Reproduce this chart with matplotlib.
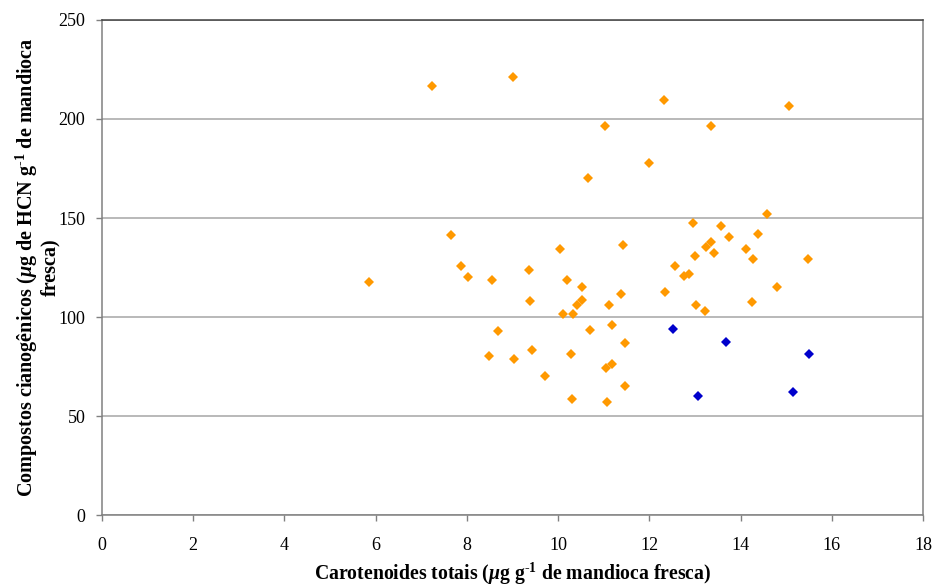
import matplotlib
matplotlib.use('Agg')
from matplotlib import pyplot as plt

# carotenoides (x) vs compostos cianogenicos (y)
orange_x = [5.85, 7.24, 9.01, 12.32, 15.06, 11.03, 13.36, 11.99, 10.66, 7.65,
            10.05, 11.43, 14.59, 12.96, 13.57, 13.75, 14.39, 13.35, 13.24, 14.11,
            13.01, 13.41, 14.27, 15.47, 7.88, 8.03, 8.54, 9.36, 12.57, 10.19,
            10.52, 9.39, 10.53, 10.42, 11.37, 12.34, 11.12, 10.11, 10.33, 12.77,
            12.88, 14.80, 13.02, 13.21, 14.25, 8.68, 10.71, 11.19, 11.47, 8.49,
            9.04, 9.43, 10.28, 11.18, 11.05, 9.71, 11.47, 10.30, 11.08]
orange_y = [117.8, 216.8, 221.1, 209.4, 206.7, 196.3, 196.3, 177.8, 170.2, 141.4,
            134.2, 136.5, 151.9, 147.5, 145.8, 140.6, 141.9, 138.0, 135.5, 134.3,
            130.7, 132.1, 129.4, 129.1, 125.6, 120.4, 118.8, 123.9, 125.7, 118.8,
            115.0, 107.9, 108.7, 105.9, 111.6, 112.8, 106.2, 101.5, 101.5, 120.7,
            121.9, 115.3, 105.9, 103.2, 107.6, 92.8, 93.6, 96.0, 86.7, 80.2,
            78.9, 83.5, 81.2, 76.4, 74.1, 70.2, 65.3, 58.6, 57.2]

blue_x = [12.51, 13.68, 15.49, 13.07, 15.15]
blue_y = [93.8, 87.2, 81.5, 59.9, 62.1]

x_ticks = list(range(0, 19, 2))
y_ticks = list(range(0, 251, 50))

plt.rcParams['font.family'] = ['Liberation Serif', 'DejaVu Serif']
plt.rcParams['mathtext.fontset'] = 'custom'
plt.rcParams['mathtext.rm'] = 'Liberation Serif:bold'
plt.rcParams['mathtext.it'] = 'Liberation Serif:italic:bold'
plt.rcParams['mathtext.bf'] = 'Liberation Serif:bold'

fig = plt.figure(figsize=(9.33, 5.88), dpi=100)
ax = fig.add_axes([0.1093, 0.1241, 0.88, 0.8419])

ax.plot(orange_x, orange_y, linestyle='none', marker='D', ms=5.2,
        mew=0, color='#FF9900', zorder=3)
ax.plot(blue_x, blue_y, linestyle='none', marker='D', ms=5.2,
        mew=0, color='#0000CC', zorder=3)

ax.set_xlim(0, 18)
ax.set_ylim(0, 250)
ax.set_xticks(x_ticks)
ax.set_yticks(y_ticks)
ax.yaxis.grid(True, color='#b3b3b3', linewidth=1.3)
ax.set_axisbelow(True)

for side in ['left', 'right', 'bottom']:
    ax.spines[side].set_color('#808080')
ax.spines['top'].set_color('#404040')
for spine in ax.spines.values():
    spine.set_linewidth(1.1)

ax.tick_params(axis='both', direction='out', length=4, width=1,
               color='#808080', labelsize=13)
ax.tick_params(axis='x', pad=12)
ax.tick_params(axis='y', pad=8)

# superscript with a plain hyphen (U+2010) like the original
ax.set_xlabel('Carotenoides totais ($\\mu$g g$^{\u20101}$ de mandioca fresca)',
              fontsize=14.2, fontweight='bold', labelpad=5)
ax.set_ylabel('Compostos cianogênicos ($\\mu$g de HCN g$^{\u20101}$ de mandioca\nfresca)',
              fontsize=14.5, fontweight='bold', linespacing=1.0)
ax.yaxis.set_label_coords(-0.051, 0.5)

fig.savefig('out.png', dpi=100)
